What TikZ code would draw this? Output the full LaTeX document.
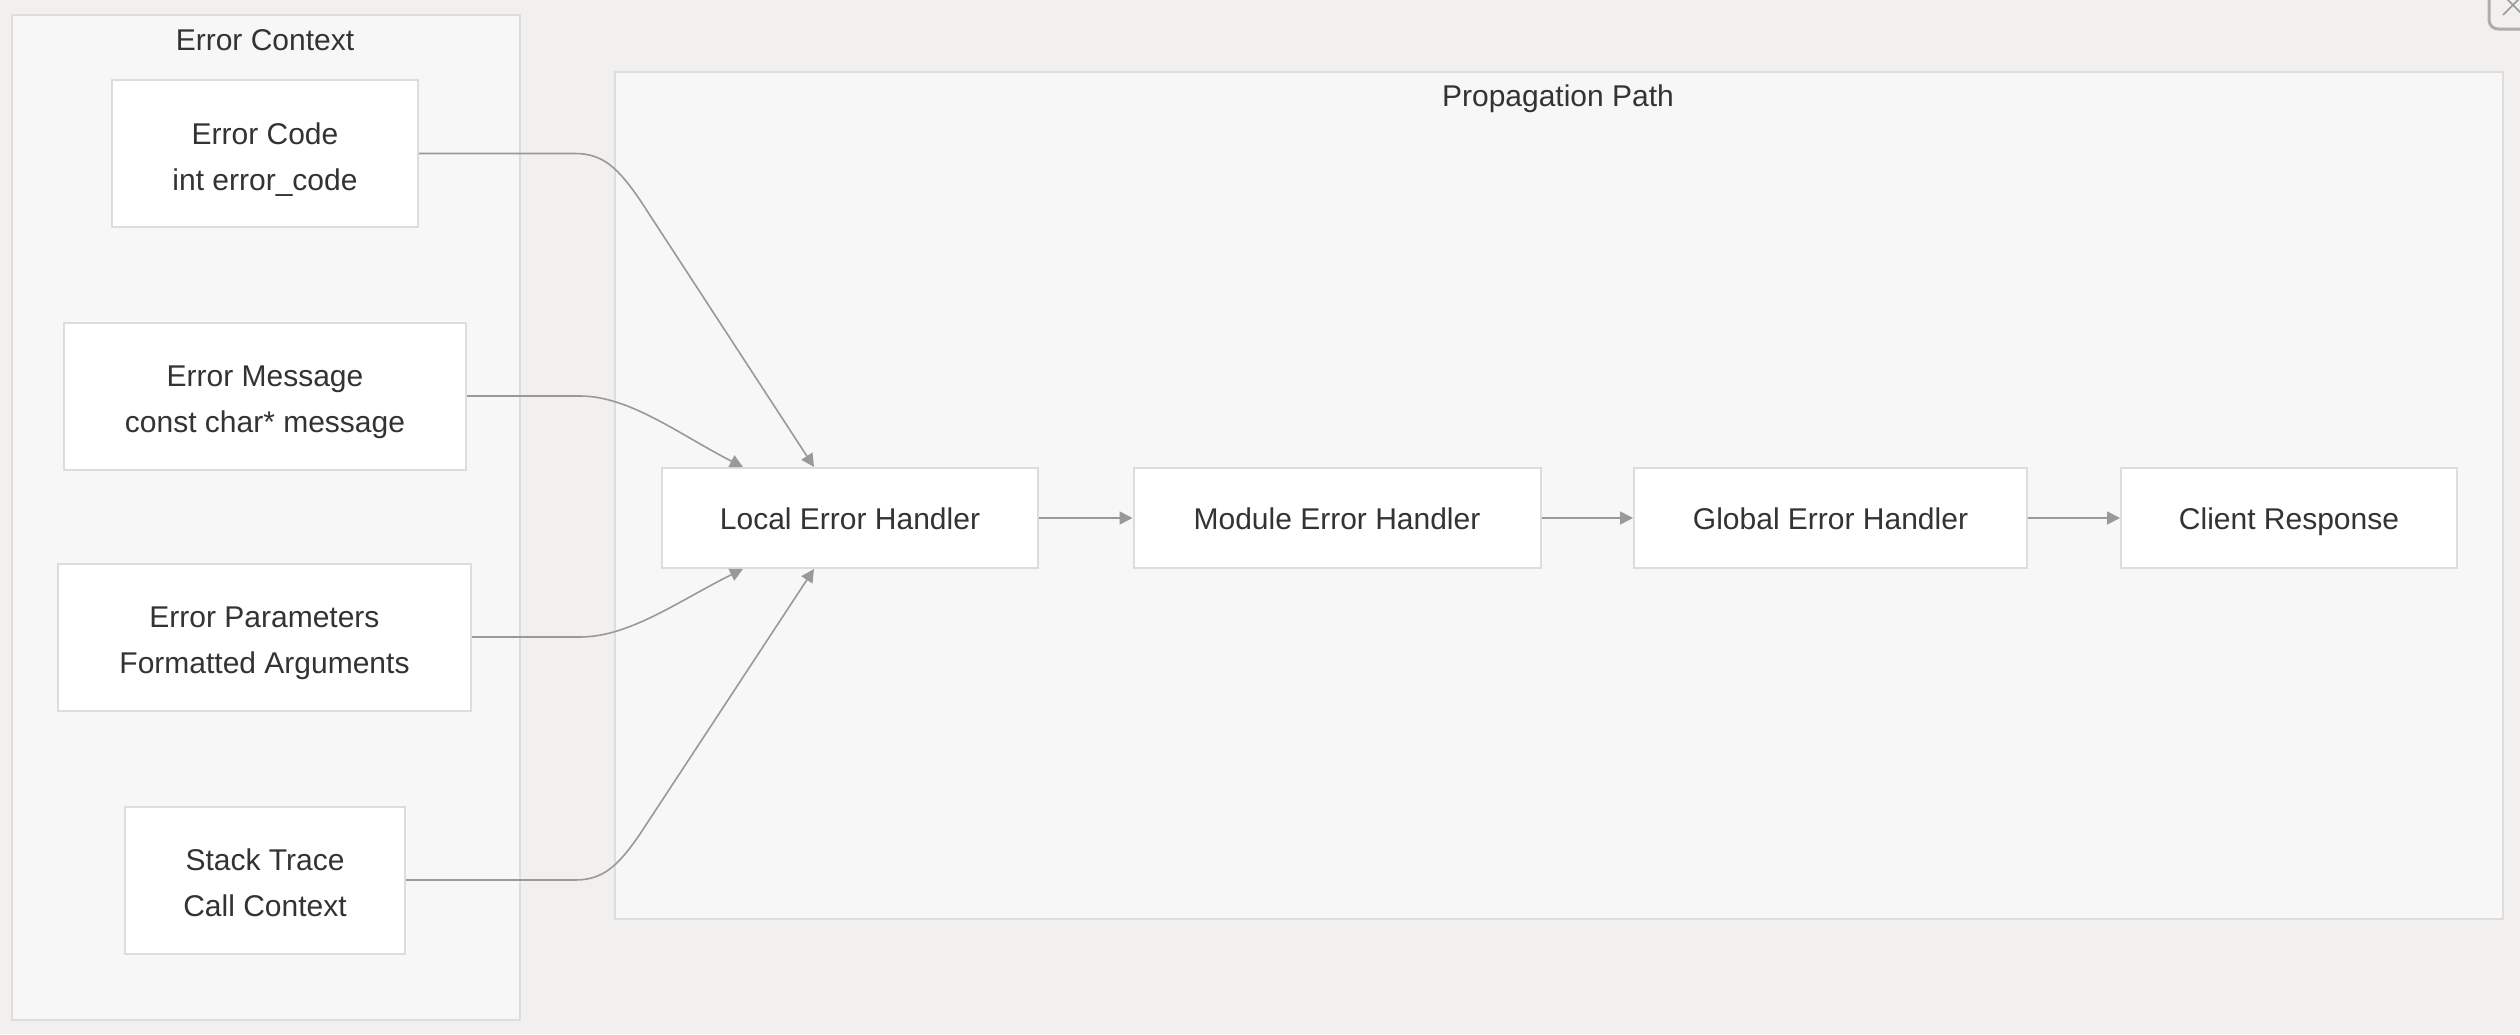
\documentclass[tikz,border=0pt]{standalone}
\usepackage{fontspec}
\setmainfont{Liberation Sans}
\usetikzlibrary{arrows.meta}
\definecolor{bgc}{HTML}{F1F0EE}
\definecolor{clfill}{HTML}{F7F7F7}
\definecolor{clline}{HTML}{DDDDDD}
\definecolor{ndline}{HTML}{DDDDDD}
\definecolor{edgec}{HTML}{999999}
\definecolor{txt}{HTML}{333333}
\newcommand{\twolines}[2]{\rule{0pt}{27.5pt}#1\\\raisebox{0pt}[\height][0pt]{#2}}
\begin{document}
\begin{tikzpicture}[x=1pt,y=-1pt,
  font=\fontsize{30}{46}\selectfont,
  box/.style={draw=ndline, line width=2pt, fill=white, text=txt, align=center, inner sep=0pt, minimum height=147pt},
  hbox/.style={draw=ndline, line width=2pt, fill=white, text=txt, align=center, inner sep=0pt, minimum height=100pt, text height=26pt, text depth=4pt},
  cluster/.style={draw=clline, line width=1.5pt, fill=clfill, inner sep=0pt, anchor=north west},
  ctitle/.style={text=txt, inner sep=0pt, text height=22pt, text depth=0pt, anchor=base},
  arr/.style={draw=edgec, line width=1.6pt, -{Triangle[length=13pt,width=13pt]}}]
\useasboundingbox (0,0) rectangle (2520,1034);
\fill[bgc] (0,0) rectangle (2520,1034);

% close button artifact
\draw[draw=edgec!80, line width=3pt, rounded corners=9pt] (2489,-30) rectangle (2560,29);
\draw[draw=edgec, line width=1.5pt] (2503,15) -- (2523,-5);
\draw[draw=edgec, line width=1.5pt] (2503,-5) -- (2523,15);

% clusters
\node[cluster, minimum width=508pt, minimum height=1005pt] (ctx) at (11,14) {};
\node[ctitle] (ctxt) at (265,50) {Error Context};
\node[cluster, minimum width=1888pt, minimum height=847pt] (prop) at (614,71) {};
\node[ctitle] (propt) at (1558,106) {Propagation Path};

% context nodes
\node[box, minimum width=306pt] (ec) at (265,153.5) {\twolines{Error Code}{int error\_code}};
\node[box, minimum width=402pt] (em) at (265,396) {\twolines{Error Message}{const char* message}};
\node[box, minimum width=413pt] (ep) at (264.5,637) {\twolines{Error Parameters}{Formatted Arguments}};
\node[box, minimum width=280pt] (st) at (265,880) {\twolines{Stack Trace}{Call Context}};

% propagation nodes
\node[hbox, minimum width=376pt] (lh) at (850,518) {Local Error Handler};
\node[hbox, minimum width=407pt] (mh) at (1337,518) {Module Error Handler};
\node[hbox, minimum width=393pt] (gh) at (1830.5,518) {Global Error Handler};
\node[hbox, minimum width=336pt] (cr) at (2289,518) {Client Response};

% edges into local handler
\draw[arr] (ec.east) -- (575,153.5) .. controls (603,153.5) and (618,168) .. (640,200) -- ([xshift=-36pt]lh.north);
\draw[arr] (em.east) -- (580,396) .. controls (630,396) and (680,435) .. ([xshift=-107pt]lh.north);
\draw[arr] (ep.east) -- (580,637) .. controls (630,637) and (680,600) .. ([xshift=-107pt]lh.south);
\draw[arr] (st.east) -- (575,880) .. controls (603,880) and (618,866) .. (640,834) -- ([xshift=-36pt]lh.south);

% chain
\draw[arr] (lh) -- (mh);
\draw[arr] (mh) -- (gh);
\draw[arr] (gh) -- (cr);
\end{tikzpicture}
\end{document}
